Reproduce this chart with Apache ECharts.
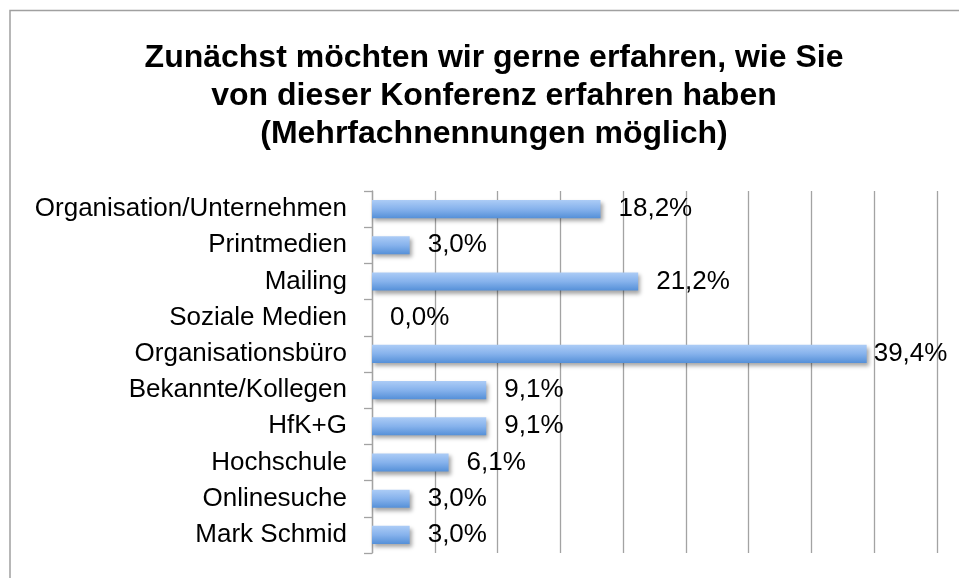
<!DOCTYPE html>
<html>
<head>
<meta charset="utf-8">
<script src="https://cdn.jsdelivr.net/npm/echarts@6/dist/echarts.min.js"></script>
<style>
  html, body { margin: 0; padding: 0; background: #fff; }
  #chart { width: 959px; height: 578px; }
</style>
</head>
<body>
<div id="chart"></div>
<script>
/* Daten */
const categories = [
  'Organisation/Unternehmen', 'Printmedien', 'Mailing', 'Soziale Medien',
  'Organisationsbüro', 'Bekannte/Kollegen', 'HfK+G', 'Hochschule',
  'Onlinesuche', 'Mark Schmid'
];
const values = [18.2, 3.0, 21.2, 0.0, 39.4, 9.1, 9.1, 6.1, 3.0, 3.0];
const titleLines = [
  'Zunächst möchten wir gerne erfahren, wie Sie',
  'von dieser Konferenz erfahren haben',
  '(Mehrfachnennungen möglich)'
];

const font = "'Liberation Sans', Arial, Helvetica, sans-serif";
const chart = echarts.init(document.getElementById('chart'));

/* Balken: Beschriftung am rechten Rand etwas näher */
const barData = values.map(function (v) {
  return {
    value: v,
    label: { distance: v > 35 ? 7 : 18 }
  };
});

const option = {
  backgroundColor: '#fff',
  animation: false,
  title: {
    text: titleLines.join('\n'),
    left: 489,
    textAlign: 'center',
    top: 34,
    textStyle: {
      fontFamily: font,
      fontSize: 32,
      fontWeight: 'bold',
      lineHeight: 38,
      color: '#000'
    }
  },
  graphic: [{
    type: 'rect',
    shape: { x: 10, y: 10.5, width: 1000, height: 700 },
    style: { fill: 'none', stroke: '#a0a0a0', lineWidth: 1.5 },
    silent: true,
    z: -1
  }],
  grid: {
    left: 372,
    right: 22,
    top: 191,
    bottom: 25
  },
  xAxis: {
    type: 'value',
    min: 0,
    max: 45,
    interval: 5,
    axisLine: { show: false },
    axisTick: { show: false },
    axisLabel: { show: false },
    splitLine: { show: true, lineStyle: { color: '#a3a3a3', width: 1.3 } }
  },
  yAxis: {
    type: 'category',
    inverse: true,
    data: categories,
    axisLine: { show: true, lineStyle: { color: '#a3a3a3', width: 1.3 } },
    axisTick: { show: true, length: 8, lineStyle: { color: '#a3a3a3', width: 1.3 } },
    axisLabel: {
      margin: 25,
      fontFamily: font,
      fontSize: 26,
      color: '#000'
    }
  },
  series: [{
    type: 'bar',
    data: barData,
    barWidth: '50%',
    itemStyle: {
      color: new echarts.graphic.LinearGradient(0, 0, 0, 1, [
        { offset: 0, color: '#acccf6' },
        { offset: 0.5, color: '#86b2ec' },
        { offset: 1, color: '#5590d8' }
      ]),
      shadowColor: 'rgba(0,0,0,0.35)',
      shadowBlur: 4,
      shadowOffsetX: 2,
      shadowOffsetY: 3
    },
    label: {
      show: true,
      position: 'right',
      fontFamily: font,
      fontSize: 26,
      color: '#000',
      formatter: function (p) {
        return p.value.toFixed(1).replace('.', ',') + '%';
      }
    }
  }]
};

chart.setOption(option);
</script>
</body>
</html>
